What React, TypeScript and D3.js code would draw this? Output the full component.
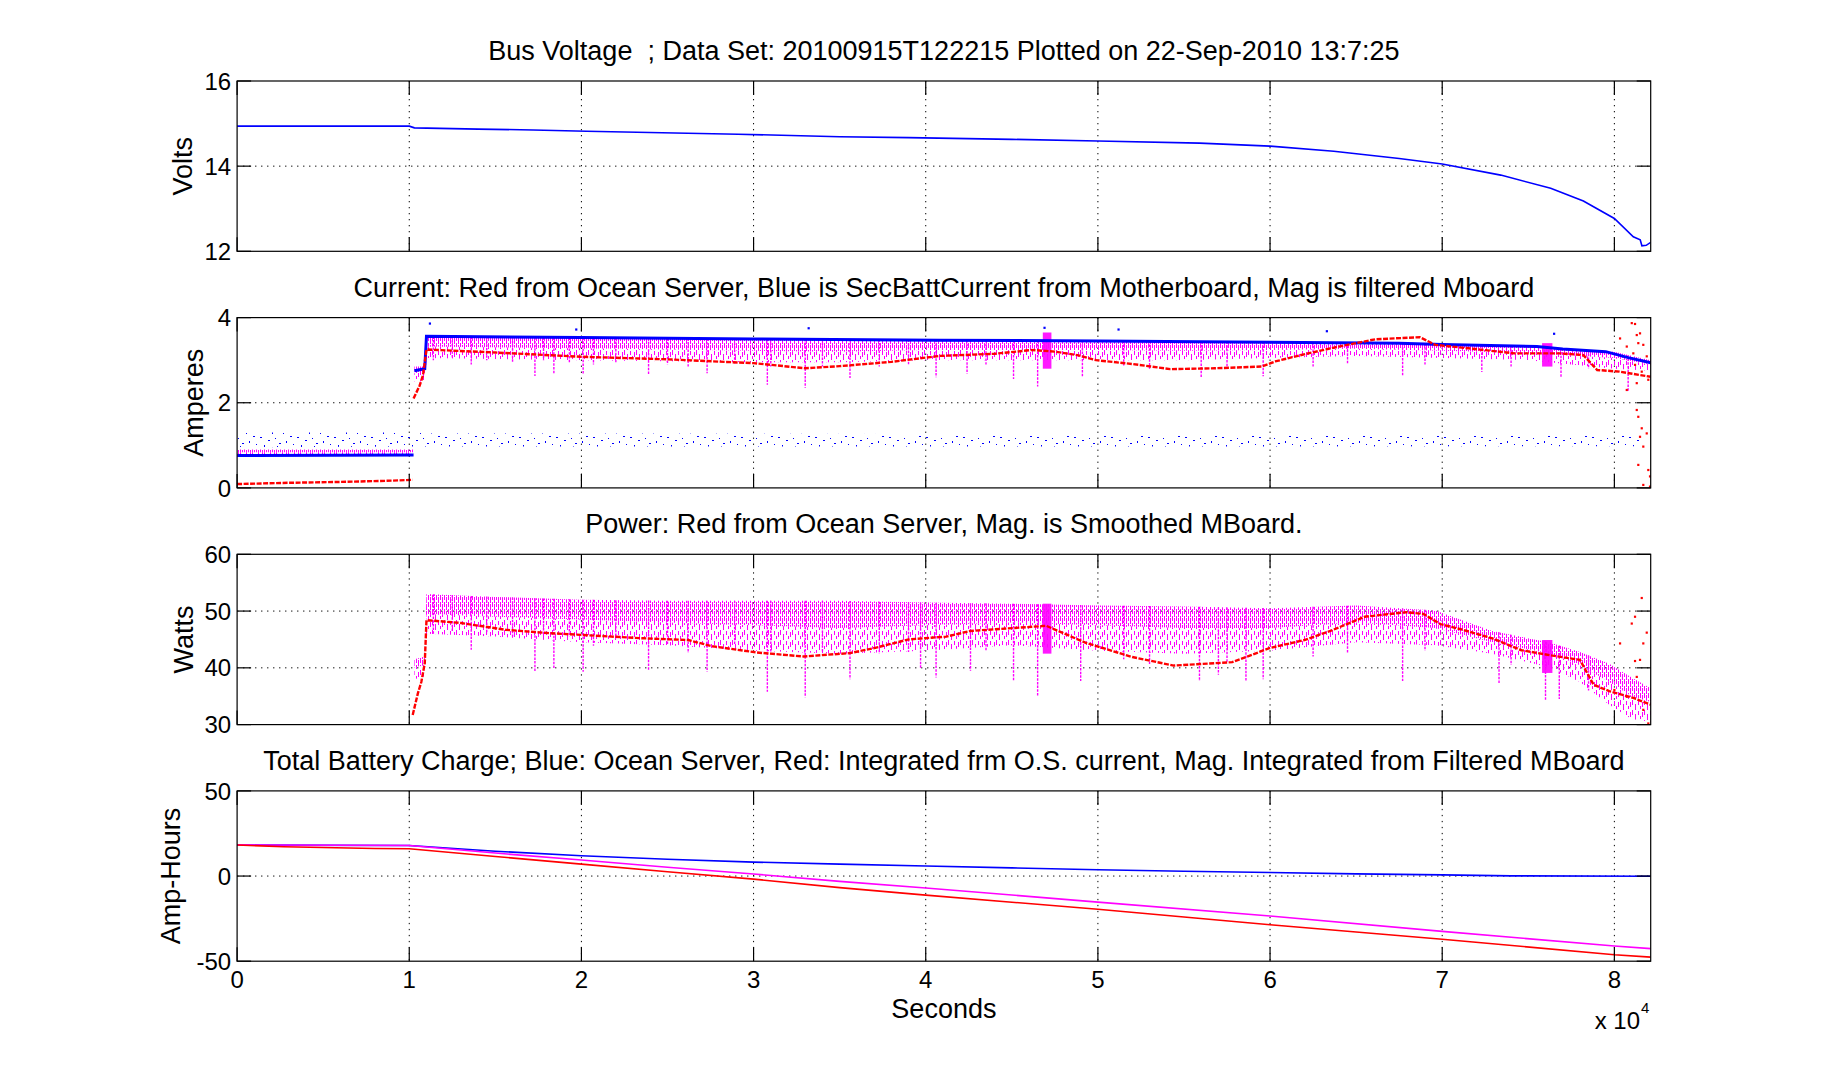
import React from 'react'
import * as d3 from 'd3'

// ---- data (x in seconds) ----
const xTickVals = [0, 10000, 20000, 30000, 40000, 50000, 60000, 70000, 80000]
const xTickLabels = ['0', '1', '2', '3', '4', '5', '6', '7', '8']
const xMax = 82110

const voltsTicks = [12, 14, 16]
const ampTicks = [0, 2, 4]
const wattTicks = [30, 40, 50, 60]
const ahTicks = [-50, 0, 50]

const busVolts: [number, number][] = [
  [0, 14.94], [10000, 14.94], [10300, 14.9], [14000, 14.87], [17200, 14.85], [20300, 14.82],
  [29100, 14.75], [35000, 14.69], [39000, 14.67], [45000, 14.63], [50000, 14.59], [55900, 14.54],
  [60000, 14.47], [63700, 14.35], [67500, 14.18], [70000, 14.05], [73400, 13.79], [76300, 13.48],
  [78200, 13.18], [80000, 12.77], [81100, 12.34], [81500, 12.27], [81600, 12.13], [81850, 12.14],
  [82110, 12.21]
]

// current panel
const mbCurrentLow: [number, number][] = [[0, 0.76], [10250, 0.77]]
const mbCurrent: [number, number][] = [
  [10300, 2.75], [10900, 2.8], [11000, 3.56], [20000, 3.53], [30000, 3.5], [40800, 3.47],
  [50000, 3.45], [60000, 3.42], [67500, 3.4], [70000, 3.37], [75500, 3.32], [77000, 3.26],
  [79500, 3.2], [80800, 3.06], [82110, 2.94]
]
const mbCurrentNoise: [number, number, number][] = [
  [0, 1.3, 0.95], [10200, 1.3, 0.97], [11000, 1.28, 0.97], [50000, 1.26, 0.97], [81500, 1.24, 0.98]
]
const mbCurrentSpikes: [number, number][] = [
  [11200, 3.86], [19700, 3.72], [33200, 3.75], [46900, 3.76], [51200, 3.72], [63300, 3.68], [76500, 3.62]
]
const osCurrentLow: [number, number][] = [
  [0, 0.09], [3000, 0.12], [6000, 0.14], [9000, 0.17], [10200, 0.19]
]
const osCurrent: [number, number][] = [
  [10250, 2.1], [10600, 2.4], [10800, 2.65], [11000, 3.25], [15000, 3.18], [20000, 3.08],
  [25000, 3.02], [30000, 2.93], [33000, 2.81], [35000, 2.86], [38000, 2.96], [40800, 3.1],
  [44000, 3.15], [46200, 3.24], [47500, 3.2], [48800, 3.12], [49900, 3.0], [52000, 2.91],
  [54200, 2.79], [56800, 2.81], [59500, 2.85], [60300, 2.97], [62100, 3.15], [64000, 3.32],
  [66100, 3.49], [68700, 3.54], [69600, 3.36], [71500, 3.28], [74200, 3.16], [76800, 3.16],
  [78200, 3.12], [79000, 2.77], [80300, 2.73], [82110, 2.61]
]
const osCurrentTail: [number, number][] = [
  [81010, 3.87], [81200, 3.85], [81490, 3.63], [81300, 3.59], [80330, 3.51], [81390, 3.4],
  [81680, 3.36], [80720, 3.32], [81100, 3.16], [81880, 3.09], [81200, 2.89], [81590, 2.73],
  [81970, 2.54], [81300, 2.46], [80720, 2.3], [81300, 1.83], [81390, 1.67], [81590, 1.4],
  [81490, 1.2], [81680, 0.97], [81880, 1.28], [81970, 0.42], [82070, 0.27], [81390, 0.54],
  [81680, 0.07], [82070, 0.03]
]
// filtered mboard current: [x, top, denseEdge, sparseEdge]
const filtCurrentLow: [number, number, number, number][] = [
  [0, 0.9, 0.84, 0.78], [10250, 0.9, 0.84, 0.78]
]
const filtCurrent: [number, number, number, number][] = [
  [10300, 2.85, 2.7, 2.5], [10950, 2.85, 2.7, 2.5], [11000, 3.56, 3.32, 3.05], [20000, 3.53, 3.28, 3.0],
  [30000, 3.5, 3.22, 2.95], [35000, 3.5, 3.2, 2.95], [40000, 3.48, 3.24, 3.0],
  [50000, 3.46, 3.24, 3.0], [55000, 3.45, 3.22, 3.0], [60000, 3.43, 3.24, 3.05],
  [65000, 3.42, 3.27, 3.1], [70000, 3.38, 3.22, 3.05], [75000, 3.33, 3.17, 3.0],
  [80000, 3.2, 3.05, 2.8], [82110, 3.0, 2.9, 2.75]
]
const filtCurrentSpikes: [number, number][] = [
  [11400, 3.0], [12500, 3.05], [13600, 2.9], [14500, 3.0], [16000, 2.95], [17300, 2.63],
  [17800, 3.0], [18400, 2.69], [19300, 2.95], [20100, 2.67], [20700, 2.9], [22000, 2.95],
  [23900, 2.67], [25000, 2.9], [26200, 2.85], [27300, 2.69], [28900, 2.9], [30800, 2.42],
  [31000, 2.85], [33000, 2.35], [34000, 2.85], [35600, 2.58], [37300, 2.85], [39000, 2.9],
  [40600, 2.6], [42400, 2.68], [43500, 2.9], [45100, 2.56], [46500, 2.38], [49100, 2.6],
  [51500, 2.85], [53000, 2.8], [56000, 2.58], [57500, 2.85], [59600, 2.62], [62500, 2.85],
  [64500, 2.9], [67700, 2.63], [69000, 2.9], [72300, 2.72], [74000, 2.85], [76900, 2.6],
  [78500, 2.8], [80800, 2.26]
]
const filtCurrentClusters: [number, number, number, number][] = [
  [46800, 47300, 3.65, 2.8], [75800, 76400, 3.4, 2.85]
]

// power panel
const osPower: [number, number][] = [
  [10200, 31.7], [10500, 35.5], [10700, 37.5], [10900, 40.8], [11000, 48.4], [13000, 47.9],
  [15600, 46.7], [18200, 46.1], [20000, 45.8], [23600, 45.2], [26200, 44.9], [27600, 43.8],
  [30200, 42.7], [32900, 42.0], [35600, 42.6], [36900, 43.4], [39000, 45.0], [41200, 45.5],
  [42600, 46.5], [47000, 47.4], [49300, 44.4], [52000, 41.9], [54400, 40.4], [57800, 41.0],
  [60000, 43.5], [62000, 44.9], [63500, 46.5], [65500, 49.0], [67900, 49.8], [68900, 49.5],
  [69900, 47.7], [71200, 46.7], [72900, 45.2], [74600, 43.1], [76300, 42.2], [78000, 41.4],
  [78800, 37.0], [79700, 35.9], [81100, 34.7], [82110, 33.5]
]
const osPowerTail: [number, number][] = [
  [81200, 49.0], [81010, 47.8], [81680, 44.3], [81490, 41.4], [80330, 44.3], [81200, 41.2],
  [81300, 38.4], [80000, 36.1], [80720, 34.9], [81680, 32.6], [81970, 30.2], [81880, 46.2],
  [81590, 52.3]
]
const filtPower: [number, number, number, number][] = [
  [10300, 41.5, 40, 38], [10900, 42, 40.5, 38.5], [11000, 53, 49.5, 46], [15000, 52.5, 49, 45.5],
  [20000, 52, 48.5, 44.5], [25000, 51.8, 48, 44], [30000, 51.8, 47.5, 43], [35000, 51.8, 47, 42.5],
  [40000, 51.5, 47.5, 43], [45000, 51.3, 48, 44], [50000, 51, 47.5, 43], [55000, 50.8, 47, 42.5],
  [60000, 50.5, 47, 43], [65000, 51, 48, 44.5], [69600, 50.1, 47, 44], [72900, 46.5, 44.5, 42.5],
  [76300, 44.4, 42.5, 40], [78000, 42.8, 40.5, 37.5], [79700, 40.7, 37.5, 33.5], [81000, 38.3, 35, 31],
  [82110, 36.4, 34, 30.5]
]
const filtPowerSpikes: [number, number][] = [
  [11400, 46], [12500, 46.5], [13600, 43.2], [14500, 46], [16000, 45.5], [17300, 39.3],
  [17800, 45.8], [18400, 39.9], [19300, 45.5], [20100, 39.3], [20700, 43.9], [22000, 45.2],
  [23900, 39.6], [25000, 44.2], [26200, 42.6], [27300, 39.3], [28900, 44], [30800, 35.8],
  [31000, 42.5], [33000, 34.8], [34000, 42.7], [35600, 38.0], [37300, 42.5], [39000, 42.8],
  [39700, 39.9], [40600, 38.3], [42600, 39.5], [43500, 43], [45100, 37.7], [46500, 34.9],
  [49000, 37.7], [51500, 41.5], [53000, 40.5], [55900, 37.7], [57000, 38.8], [57500, 41],
  [58600, 37.7], [59600, 38.0], [62500, 42], [64500, 42.5], [67700, 37.7], [69000, 43],
  [73300, 37.1], [74000, 40.5], [76000, 34.3], [76800, 34.5], [78500, 36]
]
const filtPowerClusters: [number, number, number, number][] = [
  [46800, 47300, 51.3, 42.5], [75800, 76400, 44.9, 39.1]
]

// charge panel
const chargeOS: [number, number][] = [
  [0, 18.2], [10000, 17.9], [15000, 14.6], [20000, 11.9], [25000, 9.9], [30000, 8.2],
  [35000, 7.0], [40000, 5.9], [45000, 4.8], [50000, 3.7], [55000, 2.8], [60000, 2.1],
  [65000, 1.3], [70000, 0.7], [74000, 0.1], [82110, -0.1]
]
const chargeIntOS: [number, number][] = [
  [0, 18.2], [2700, 17.2], [8000, 16.2], [10000, 16.0], [15000, 11.5], [20000, 7.0],
  [25000, 2.5], [30000, -1.8], [35000, -6.8], [40000, -11.2], [50000, -19.5], [60000, -28.6],
  [70000, -37.1], [80000, -46.2], [82110, -47.6]
]
const chargeIntMB: [number, number][] = [
  [0, 18.3], [10000, 17.9], [15000, 13.5], [20000, 9.4], [25000, 5.2], [30000, 1.2],
  [35000, -3.1], [40000, -7.0], [50000, -15.3], [60000, -23.5], [70000, -32.5], [80000, -41.1],
  [82110, -42.6]
]

// ---- layout (MATLAB subplot(4,1,k) positions) ----
const W = 1824
const H = 1080
const axLeft = 237.1
const axRight = 1650.7
const axH = 170.3
const tops = [81, 317.6, 554.3, 790.9]
const FONT = 'Liberation Sans, Arial, Helvetica, sans-serif'
const BLUE = '#0000ff'
const RED = '#ff0000'
const MAG = '#ff00ff'
const tickLen = 14

const x = d3.scaleLinear().domain([0, xMax]).range([axLeft, axRight])

function interpTop(band: number[][], xv: number) {
  const i = d3.bisector((d: number[]) => d[0]).left(band, xv)
  if (i <= 0) return band[0][1]
  if (i >= band.length) return band[band.length - 1][1]
  const a = band[i - 1], b = band[i]
  const t = (xv - a[0]) / (b[0] - a[0])
  return a[1] + t * (b[1] - a[1])
}

type Scale = d3.ScaleLinear<number, number>

function Axes({ idx, domain, ticks, title, ylabel, labelX, showXLabels, children }: {
  idx: number
  domain: [number, number]
  ticks: number[]
  title: string
  ylabel: string
  labelX: number
  showXLabels?: boolean
  children: (y: Scale) => React.ReactNode
}) {
  const top = tops[idx]
  const bottom = top + axH
  const y = d3.scaleLinear().domain(domain).range([bottom, top])
  const cy = (top + bottom) / 2
  const clipId = `clip${idx}`
  return (
    <g>
      <clipPath id={clipId}>
        <rect x={axLeft} y={top} width={axRight - axLeft} height={axH} />
      </clipPath>
      {/* grid */}
      <g stroke="#000" strokeWidth={1} strokeDasharray="1.3 4.7">
        {xTickVals.slice(1).map(t => (
          <line key={'gx' + t} x1={x(t)} x2={x(t)} y1={top} y2={bottom} />
        ))}
        {ticks.slice(1, -1).map(t => (
          <line key={'gy' + t} x1={axLeft} x2={axRight} y1={y(t)} y2={y(t)} />
        ))}
      </g>
      <g clipPath={`url(#${clipId})`}>{children(y)}</g>
      {/* box and ticks */}
      <rect x={axLeft} y={top} width={axRight - axLeft} height={axH} fill="none" stroke="#000" strokeWidth={1.2} />
      <g stroke="#000" strokeWidth={1.2}>
        {xTickVals.map(t => (
          <g key={'tx' + t}>
            <line x1={x(t)} x2={x(t)} y1={bottom} y2={bottom - tickLen} />
            <line x1={x(t)} x2={x(t)} y1={top} y2={top + tickLen} />
          </g>
        ))}
        {ticks.map(t => (
          <g key={'ty' + t}>
            <line x1={axLeft} x2={axLeft + tickLen} y1={y(t)} y2={y(t)} />
            <line x1={axRight} x2={axRight - tickLen} y1={y(t)} y2={y(t)} />
          </g>
        ))}
      </g>
      <g fontFamily={FONT} fontSize={24} fill="#000">
        {ticks.map(t => (
          <text key={'ly' + t} x={axLeft - 6} y={y(t)} dy="0.36em" textAnchor="end">{String(t)}</text>
        ))}
        {showXLabels && xTickVals.map((t, i) => (
          <text key={'lx' + t} x={x(t)} y={bottom + 27} textAnchor="middle">{xTickLabels[i]}</text>
        ))}
      </g>
      <text x={(axLeft + axRight) / 2} y={top - 21} textAnchor="middle" fontFamily={FONT} fontSize={27}
        style={{ whiteSpace: 'pre' }}>{title}</text>
      <text transform={`translate(${labelX},${cy}) rotate(-90)`} textAnchor="middle" fontFamily={FONT} fontSize={27}>{ylabel}</text>
    </g>
  )
}

function Band({ data, y }: { data: [number, number, number, number][]; y: Scale }) {
  const dense = d3.area<[number, number, number, number]>()
    .x(d => x(d[0])).y0(d => y(d[2])).y1(d => y(d[1]))
  const sparse = d3.area<[number, number, number, number]>()
    .x(d => x(d[0])).y0(d => y(d[3])).y1(d => y(d[2]))
  return (
    <g>
      <path d={sparse(data) || ''} fill="url(#magSparse)" />
      <path d={dense(data) || ''} fill="url(#magDense)" />
    </g>
  )
}

function Spikes({ spikes, band, y }: { spikes: [number, number][]; band: number[][]; y: Scale }) {
  return (
    <g stroke={MAG} strokeWidth={1.4} strokeDasharray="2.5 1.2">
      {spikes.map(([sx, lo], i) => (
        <line key={i} x1={x(sx)} x2={x(sx)} y1={y(interpTop(band, sx))} y2={y(lo)} />
      ))}
    </g>
  )
}

function Clusters({ data, y }: { data: [number, number, number, number][]; y: Scale }) {
  return (
    <g>
      {data.map(([x0, x1, hi, lo], i) => (
        <rect key={i} x={x(x0)} y={y(hi)} width={x(x1) - x(x0)} height={y(lo) - y(hi)} fill={MAG} opacity={0.9} />
      ))}
    </g>
  )
}

function Dots({ data, y, color, size = 2.2 }: { data: [number, number][]; y: Scale; color: string; size?: number }) {
  return (
    <g fill={color}>
      {data.map(([dx, dy], i) => (
        <rect key={i} x={x(dx) - size / 2} y={y(dy) - size / 2} width={size} height={size} />
      ))}
    </g>
  )
}

export default function App() {
  const line = (y: Scale) => d3.line<[number, number]>().x(d => x(d[0])).y(d => y(d[1]))
  const noiseArea = (y: Scale) => d3.area<[number, number, number]>()
    .x(d => x(d[0])).y0(d => y(d[2])).y1(d => y(d[1]))

  return (
    <svg width={W} height={H} style={{ position: 'absolute', left: 0, top: 0, background: '#fff', display: 'block' }}>
      <defs>
        <pattern id="magDense" width={4} height={7} patternUnits="userSpaceOnUse">
          <g fill={MAG} shapeRendering="crispEdges">
            <rect x={0} y={0} width={1} height={5} />
            <rect x={2} y={2} width={1} height={5} />
            <rect x={2} y={0} width={1} height={1} />
          </g>
        </pattern>
        <pattern id="magSparse" width={12} height={10} patternUnits="userSpaceOnUse">
          <g fill={MAG} shapeRendering="crispEdges">
            <rect x={0} y={0} width={1} height={5} />
            <rect x={3} y={4} width={1} height={6} />
            <rect x={6} y={1} width={1} height={4} />
            <rect x={8} y={6} width={1} height={3} />
            <rect x={10} y={2} width={1} height={5} />
          </g>
        </pattern>
        <pattern id="blueDots" width={37} height={15} patternUnits="userSpaceOnUse">
          <g fill={BLUE} shapeRendering="crispEdges">
            <rect x={1} y={2} width={2} height={1} />
            <rect x={5} y={10} width={1} height={2} />
            <rect x={9} y={5} width={2} height={1} />
            <rect x={13} y={12} width={1} height={2} />
            <rect x={16} y={3} width={1} height={1} />
            <rect x={20} y={8} width={2} height={1} />
            <rect x={24} y={13} width={1} height={1} />
            <rect x={27} y={6} width={1} height={2} />
            <rect x={31} y={1} width={2} height={1} />
            <rect x={34} y={9} width={1} height={1} />
            <rect x={18} y={11} width={1} height={1} />
          </g>
        </pattern>
      </defs>

      <Axes idx={0} domain={[12, 16]} ticks={voltsTicks} labelX={192}
        title="Bus Voltage  ; Data Set: 20100915T122215 Plotted on 22-Sep-2010 13:7:25" ylabel="Volts">
        {y => <path d={line(y)(busVolts) || ''} fill="none" stroke={BLUE} strokeWidth={1.6} />}
      </Axes>

      <Axes idx={1} domain={[0, 4]} ticks={ampTicks} labelX={203}
        title="Current: Red from Ocean Server, Blue is SecBattCurrent from Motherboard, Mag is filtered Mboard" ylabel="Amperes">
        {y => (
          <g>
            <path d={noiseArea(y)(mbCurrentNoise) || ''} fill="url(#blueDots)" />
            <Band data={filtCurrentLow} y={y} />
            <Band data={filtCurrent} y={y} />
            <Spikes spikes={filtCurrentSpikes} band={filtCurrent} y={y} />
            <Clusters data={filtCurrentClusters} y={y} />
            <path d={line(y)(mbCurrentLow) || ''} fill="none" stroke={BLUE} strokeWidth={3} />
            <path d={line(y)(mbCurrent) || ''} fill="none" stroke={BLUE} strokeWidth={3} />
            <Dots data={mbCurrentSpikes} y={y} color={BLUE} />
            <path d={line(y)(osCurrentLow) || ''} fill="none" stroke={RED} strokeWidth={2.4} strokeDasharray="5 1.5" />
            <path d={line(y)(osCurrent) || ''} fill="none" stroke={RED} strokeWidth={2.4} strokeDasharray="5 1.5" />
            <Dots data={osCurrentTail} y={y} color={RED} />
          </g>
        )}
      </Axes>

      <Axes idx={2} domain={[30, 60]} ticks={wattTicks} labelX={193}
        title="Power: Red from Ocean Server, Mag. is Smoothed MBoard." ylabel="Watts">
        {y => (
          <g>
            <Band data={filtPower} y={y} />
            <Spikes spikes={filtPowerSpikes} band={filtPower} y={y} />
            <Clusters data={filtPowerClusters} y={y} />
            <path d={line(y)(osPower) || ''} fill="none" stroke={RED} strokeWidth={2.4} strokeDasharray="5 1.5" />
            <Dots data={osPowerTail} y={y} color={RED} />
          </g>
        )}
      </Axes>

      <Axes idx={3} domain={[-50, 50]} ticks={ahTicks} labelX={180} showXLabels
        title="Total Battery Charge; Blue: Ocean Server, Red: Integrated frm O.S. current, Mag. Integrated from Filtered MBoard" ylabel="Amp-Hours">
        {y => (
          <g fill="none" strokeWidth={1.6}>
            <path d={line(y)(chargeOS) || ''} stroke={BLUE} />
            <path d={line(y)(chargeIntMB) || ''} stroke={MAG} />
            <path d={line(y)(chargeIntOS) || ''} stroke={RED} />
          </g>
        )}
      </Axes>

      <g fontFamily={FONT} fill="#000">
        <text x={(axLeft + axRight) / 2} y={1018} textAnchor="middle" fontSize={27}>Seconds</text>
        <text x={1640} y={1029} textAnchor="end" fontSize={24}>x 10</text>
        <text x={1641} y={1013} fontSize={15}>4</text>
      </g>
    </svg>
  )
}
